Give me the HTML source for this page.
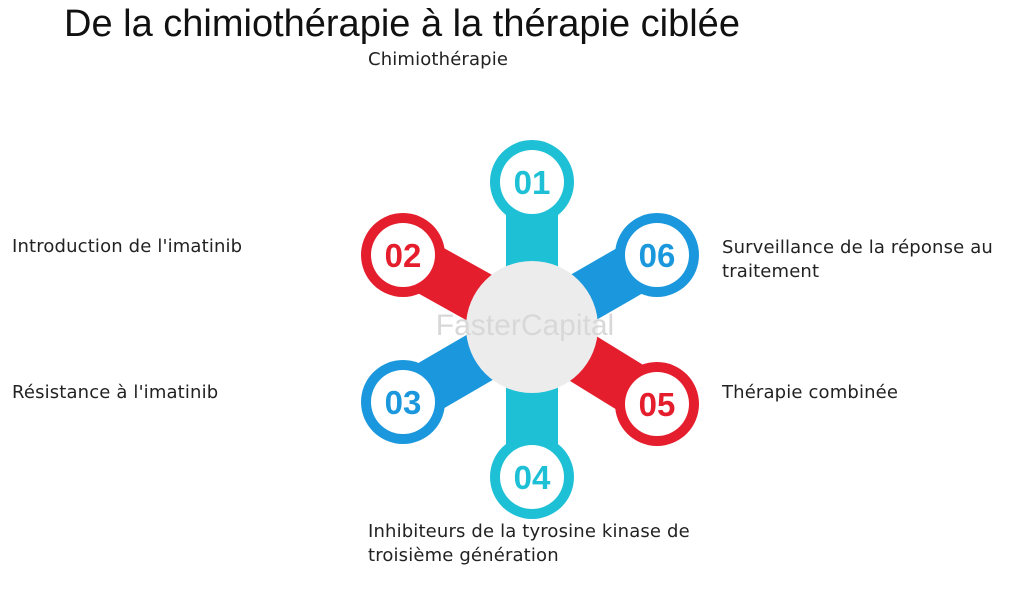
<!DOCTYPE html>
<html><head><meta charset="utf-8"><style>
body{margin:0;width:1024px;height:589px;background:#fff;position:relative;overflow:hidden;font-family:"Liberation Sans",sans-serif}
.t{position:absolute;font-family:"DejaVu Sans","Liberation Sans",sans-serif;font-size:18px;letter-spacing:0.15px;color:#222;line-height:24px}
</style></head><body>
<div style="position:absolute;left:64px;top:3px;font-size:38px;color:#111">De la chimiothérapie à la thérapie ciblée</div>
<div class="t" style="left:368px;top:48px">Chimiothérapie</div>
<div class="t" style="left:12px;top:235px">Introduction de l'imatinib</div>
<div class="t" style="left:722px;top:236px">Surveillance de la réponse au<br>traitement</div>
<div class="t" style="left:12px;top:381px">Résistance à l'imatinib</div>
<div class="t" style="left:722px;top:381px">Thérapie combinée</div>
<div class="t" style="left:368px;top:520px">Inhibiteurs de la tyrosine kinase de<br>troisième génération</div>
<svg width="1024" height="589" style="position:absolute;left:0;top:0">
<g stroke-linecap="round" stroke-width="52">
<line x1="532" y1="327" x2="532" y2="182" stroke="#1ec0d6"/>
<line x1="532" y1="327" x2="532" y2="477" stroke="#1ec0d6"/>
<line x1="532" y1="327" x2="403" y2="255" stroke="#e51e2d"/>
<line x1="532" y1="327" x2="657" y2="404" stroke="#e51e2d"/>
<line x1="532" y1="327" x2="657" y2="255" stroke="#1b98dd"/>
<line x1="532" y1="327" x2="403" y2="402" stroke="#1b98dd"/>
</g>
<g font-family="Liberation Sans" font-weight="bold" font-size="33" text-anchor="middle">
<circle cx="532" cy="182" r="42" fill="#1ec0d6"/><circle cx="532" cy="182" r="32" fill="#fff"/><text x="532" y="194" fill="#1ec0d6">01</text>
<circle cx="403" cy="255" r="42" fill="#e51e2d"/><circle cx="403" cy="255" r="32" fill="#fff"/><text x="403" y="267" fill="#e51e2d">02</text>
<circle cx="657" cy="255" r="42" fill="#1b98dd"/><circle cx="657" cy="255" r="32" fill="#fff"/><text x="657" y="267" fill="#1b98dd">06</text>
<circle cx="403" cy="402" r="42" fill="#1b98dd"/><circle cx="403" cy="402" r="32" fill="#fff"/><text x="403" y="414" fill="#1b98dd">03</text>
<circle cx="657" cy="404" r="42" fill="#e51e2d"/><circle cx="657" cy="404" r="32" fill="#fff"/><text x="657" y="416" fill="#e51e2d">05</text>
<circle cx="532" cy="477" r="42" fill="#1ec0d6"/><circle cx="532" cy="477" r="32" fill="#fff"/><text x="532" y="489" fill="#1ec0d6">04</text>
</g>
<circle cx="532" cy="327" r="66" fill="#ececec"/>
<text x="525" y="335" font-family="Liberation Sans" font-size="30" fill="#d8d8d8" text-anchor="middle">FasterCapital</text>
</svg>
</body></html>
